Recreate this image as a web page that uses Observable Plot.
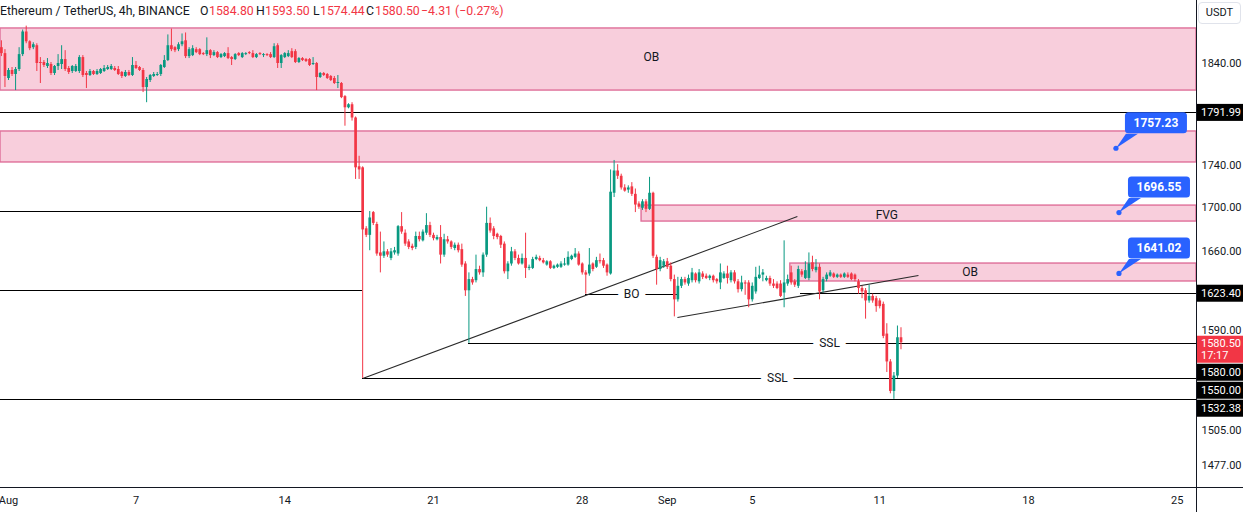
<!DOCTYPE html>
<html><head><meta charset="utf-8">
<script src="https://cdn.jsdelivr.net/npm/d3@7"></script>
<script src="https://cdn.jsdelivr.net/npm/@observablehq/plot@0.6"></script>
<style>
body{margin:0;background:#fff;font-family:Roboto,"Noto Sans",sans-serif;}
#wrap{position:relative;width:1243px;height:512px;overflow:hidden;background:#fff;}
#hdr{position:absolute;left:0;top:0;height:22px;width:520px;font-size:12.3px;color:#131722;white-space:nowrap;}
#hdr span{position:absolute;top:4px;}
.red{color:#f23645;}
#usdt{position:absolute;left:1198px;top:2px;width:41px;height:20px;border:1px solid #e0e3eb;border-radius:4px;background:#fff;font-size:11px;color:#131722;text-align:center;line-height:20px;}
</style></head><body>
<div id="wrap"><div id="chart"></div><div id="hdr"></div><div id="usdt">USDT</div></div>
<script>
// ---- candle data (4h bars, chart time) ----
const candleStart = "2023-07-31T16:00Z";
const opens = [
1857,1851,1826,1834,1830,1835,1850,1873,1863,1857,
1859,1842,1842,1838,1840,1831,1838,1840,1845,1836,
1833,1833,1833,1847,1831,1829,1833,1830,1831,1833,
1835,1835,1836,1835,1832,1828,1832,1829,1839,1837,
1834,1817,1824,1828,1829,1830,1837,1844,1859,1857,
1855,1860,1864,1848,1849,1855,1855,1851,1850,1854,
1849,1852,1847,1848,1851,1847,1845,1851,1847,1850,
1852,1851,1847,1851,1849,1850,1850,1847,1859,1841,
1847,1848,1853,1853,1842,1846,1845,1845,1840,1841,
1827,1831,1830,1828,1826,1821,1821,1808,1797,1800,
1787,1740,1739,1682,1676,1697,1686,1660,1657,1661,
1655,1660,1659,1684,1678,1670,1666,1665,1675,1671,
1678,1685,1676,1672,1674,1658,1672,1670,1664,1667,
1663,1650,1626,1636,1635,1645,1642,1658,1687,1682,
1677,1675,1668,1643,1650,1661,1655,1650,1655,1646,
1646,1654,1655,1653,1649,1652,1646,1647,1647,1649,
1649,1654,1656,1659,1650,1642,1641,1650,1647,1653,
1653,1649,1641,1715,1736,1731,1720,1718,1721,1714,
1705,1701,1707,1700,1715,1656,1645,1648,1652,1648,
1636,1618,1630,1636,1632,1635,1641,1634,1641,1639,
1637,1639,1636,1633,1637,1641,1635,1642,1634,1627,
1633,1633,1618,1625,1637,1640,1635,1637,1632,1632,
1632,1624,1632,1642,1634,1630,1643,1637,1637,1651,
1644,1647,1626,1636,1639,1641,1638,1640,1638,1640,
1641,1640,1634,1628,1626,1617,1621,1619,1617,1614,
1588,1564,1539,1552,1584.80];
const highs = [
1864,1855,1836,1837,1837,1857,1875,1879,1864,1862,
1861,1847,1844,1846,1842,1839,1850,1859,1854,1838,
1839,1840,1849,1849,1833,1835,1834,1835,1836,1839,
1839,1840,1838,1838,1833,1834,1834,1847,1843,1838,
1836,1827,1830,1832,1832,1840,1849,1870,1876,1858,
1862,1871,1872,1857,1859,1857,1856,1852,1867,1855,
1854,1853,1851,1852,1857,1848,1851,1852,1852,1852,
1853,1854,1851,1852,1851,1851,1852,1861,1861,1850,
1852,1854,1856,1855,1847,1847,1846,1846,1847,1842,
1832,1832,1831,1829,1828,1829,1822,1809,1801,1802,
1788,1750,1740,1684,1698,1698,1688,1679,1670,1663,
1664,1665,1685,1697,1681,1672,1668,1679,1679,1681,
1696,1688,1678,1676,1685,1677,1675,1671,1669,1669,
1668,1652,1642,1638,1658,1648,1660,1702,1692,1684,
1678,1676,1670,1652,1665,1663,1658,1659,1678,1649,
1656,1658,1657,1655,1653,1653,1649,1650,1652,1655,
1661,1658,1664,1661,1651,1644,1664,1651,1656,1659,
1655,1650,1737,1746,1742,1733,1723,1722,1725,1719,
1707,1709,1709,1730,1716,1658,1656,1654,1655,1651,
1640,1638,1638,1638,1640,1646,1642,1645,1643,1641,
1640,1640,1637,1650,1643,1648,1644,1644,1636,1639,
1635,1635,1633,1647,1648,1645,1639,1639,1636,1634,
1635,1671,1640,1648,1636,1648,1645,1652,1660,1657,
1654,1650,1638,1642,1644,1642,1641,1641,1642,1642,
1642,1641,1636,1630,1628,1631,1623,1621,1619,1616,
1597,1566,1555,1595,1593.50];
const lows = [
1848,1817,1824,1828,1814,1833,1848,1861,1854,1855,
1833,1821,1837,1836,1829,1829,1834,1835,1833,1830,
1831,1832,1831,1827,1816,1828,1829,1829,1830,1832,
1834,1834,1833,1829,1826,1827,1828,1828,1835,1833,
1812,1802,1822,1827,1828,1828,1836,1843,1853,1852,
1853,1858,1846,1846,1848,1851,1849,1849,1848,1846,
1848,1846,1846,1847,1845,1839,1844,1848,1846,1849,
1850,1846,1846,1849,1847,1848,1846,1846,1836,1836,
1846,1847,1846,1841,1841,1843,1842,1838,1839,1814,
1826,1828,1825,1823,1820,1816,1806,1779,1796,1784,
1728,1728,1550,1674,1662,1685,1657,1642,1655,1656,
1653,1658,1657,1677,1666,1663,1662,1663,1670,1670,
1676,1674,1671,1671,1650,1656,1668,1663,1662,1660,
1647,1621,1580,1631,1633,1640,1638,1656,1678,1672,
1672,1664,1641,1636,1648,1653,1649,1649,1637,1644,
1645,1653,1652,1650,1648,1645,1645,1646,1646,1648,
1648,1653,1655,1648,1640,1623,1639,1643,1646,1650,
1646,1639,1640,1711,1728,1718,1716,1715,1712,1697,
1700,1699,1697,1699,1655,1631,1643,1646,1645,1634,
1603,1616,1628,1631,1630,1633,1633,1632,1636,1636,
1635,1633,1632,1627,1636,1632,1633,1632,1624,1625,
1622,1611,1616,1623,1636,1634,1634,1630,1628,1627,
1620,1611,1630,1631,1629,1628,1638,1636,1635,1643,
1642,1618,1624,1634,1638,1637,1637,1637,1637,1637,
1635,1634,1623,1619,1601,1615,1615,1607,1610,1584,
1555,1537,1532.38,1550,1574.44];
const closes = [
1851,1828,1834,1830,1835,1850,1873,1863,1856,1860,
1841,1841,1839,1841,1831,1838,1841,1845,1835,1832,
1838,1838,1847,1829,1829,1833,1830,1833,1835,1836,
1837,1838,1834,1830,1828,1832,1829,1839,1836,1834,
1817,1825,1829,1830,1830,1839,1844,1859,1855,1854,
1860,1863,1848,1855,1856,1852,1850,1850,1854,1849,
1852,1847,1850,1851,1846,1845,1850,1849,1851,1851,
1851,1847,1850,1850,1850,1849,1847,1858,1841,1849,
1851,1851,1847,1842,1846,1844,1843,1839,1841,1827,
1831,1829,1826,1824,1821,1822,1807,1797,1800,1787,
1739,1737,1681,1676,1692,1687,1659,1657,1661,1658,
1661,1662,1684,1679,1668,1665,1664,1675,1672,1679,
1685,1676,1673,1674,1658,1672,1670,1665,1667,1662,
1649,1626,1636,1633,1645,1642,1658,1687,1680,1675,
1674,1667,1643,1650,1661,1655,1650,1655,1646,1647,
1654,1656,1653,1651,1652,1646,1648,1649,1650,1650,
1656,1657,1659,1649,1642,1640,1649,1645,1653,1652,
1648,1642,1716,1736,1731,1720,1717,1720,1714,1704,
1702,1707,1700,1715,1657,1645,1653,1652,1647,1636,
1618,1630,1636,1633,1637,1642,1635,1642,1638,1637,
1639,1635,1634,1642,1641,1637,1642,1634,1627,1633,
1632,1618,1630,1638,1640,1642,1637,1632,1630,1628,
1621,1633,1636,1633,1631,1645,1640,1644,1650,1645,
1647,1625,1636,1640,1642,1638,1640,1638,1641,1638,
1636,1636,1628,1625,1617,1621,1617,1612,1612,1586,
1564,1539,1552,1584.81,1580.50];

// ---- drawings ----
const zoneTops    = [1876.6, 1773.9, 1703.5, 1650.4];
const zoneBottoms = [1814.0, 1744.1, 1688.7, 1634.3];
const zoneStarts  = [null, null, "2023-08-30T19:00Z", "2023-09-06T19:00Z"];

const lineLevels = [1791.99, 1698, 1626, 1623.40, 1580, 1550, 1532.38, 1622.8];
const lineStarts = [null, null, null, "2023-09-07T06:30Z", "2023-08-22T16:00Z", "2023-08-17T16:00Z", null, "2023-08-28T04:00Z"];
const lineEnds   = [null, "2023-08-17T16:00Z", "2023-08-17T16:00Z", null, null, null, null, "2023-09-01T11:30Z"];

const trendStartDates  = ["2023-08-17T16:00Z", "2023-09-01T11:30Z"];
const trendStartPrices = [1550, 1602.4];
const trendEndDates    = ["2023-09-07T03:00Z", "2023-09-12T19:45Z"];
const trendEndPrices   = [1693.3, 1639.6];

const annoTexts  = ["OB", "FVG", "OB", "SSL", "SSL", "BO"];
const annoDates  = ["2023-08-31T06:00Z", "2023-09-11T08:00Z", "2023-09-15T06:00Z", "2023-09-08T15:15Z", "2023-09-06T04:30Z", "2023-08-30T07:40Z"];
const annoPrices = [1847, 1694.3, 1642.3, 1580, 1550, 1622.8];
const annoOnLine = [false, false, false, true, true, true];

const calloutDates  = ["2023-09-22T03:20Z", "2023-09-22T06:45Z", "2023-09-22T06:45Z"];
const calloutPrices = [1757.23, 1696.55, 1641.02];

const tagPrices = [1791.99, 1623.40, 1580.00, 1550.00, 1532.38];
const countdown = "17:17";

const yTicks = [1840, 1740, 1700, 1660, 1590, 1505, 1477];
const xTickDates  = ["2023-08-01","2023-08-07","2023-08-14","2023-08-21","2023-08-28","2023-09-01","2023-09-05","2023-09-11","2023-09-18","2023-09-25"];
const xTickLabels = ["Aug","7","14","21","28","Sep","5","11","18","25"];

// ---- build ----
const xDomain = [new Date("2023-07-31T14:58Z"), new Date("2023-09-25T21:45Z")];
const yDomain = [1460.3, 1905.5];
const GREEN = "#089981", RED = "#f23645";
const step = 4 * 3600 * 1000;
const t0 = new Date(candleStart).getTime();
const candles = opens.map((o, i) => ({date: new Date(t0 + i * step), open: o, high: highs[i], low: lows[i], close: closes[i]}));
const zones = zoneTops.map((t, i) => ({top: t, bottom: zoneBottoms[i], start: zoneStarts[i] ? new Date(zoneStarts[i]) : xDomain[0], end: xDomain[1]}));
const hLines = lineLevels.map((p, i) => ({price: p, start: lineStarts[i] ? new Date(lineStarts[i]) : xDomain[0], end: lineEnds[i] ? new Date(lineEnds[i]) : xDomain[1]}));
const trends = trendStartDates.map((d, i) => ({d1: new Date(d), p1: trendStartPrices[i], d2: new Date(trendEndDates[i]), p2: trendEndPrices[i]}));
const annos = annoTexts.map((t, i) => ({text: t, date: new Date(annoDates[i]), price: annoPrices[i], onLine: annoOnLine[i]}));
const tickMap = new Map(xTickDates.map((d, i) => [new Date(d + "T00:00Z").getTime(), xTickLabels[i]]));
const last = candles[candles.length - 1], prev = candles[candles.length - 2];
const candleColor = d => d.close >= d.open ? GREEN : RED;

function callouts(index, scales, values, dims) {
  const g = d3.create("svg:g");
  calloutPrices.forEach((p, i) => {
    const ax = scales.x(new Date(calloutDates[i])), ay = scales.y(p);
    const bx = ax + 9, bw = 62, bh = 21, bb = ay - 15, bt = bb - bh;
    g.append("path").attr("d", `M${ax},${ay}L${bx + 1},${bb + 0.5}L${bx + 13},${bb + 0.5}Z`).attr("fill", "#2962ff");
    g.append("rect").attr("x", bx).attr("y", bt).attr("width", bw).attr("height", bh).attr("rx", 3.5).attr("fill", "#2962ff");
    g.append("circle").attr("cx", ax).attr("cy", ay).attr("r", 2.6).attr("fill", "#2962ff");
    g.append("text").attr("x", bx + bw / 2).attr("y", bt + bh / 2).attr("text-anchor", "middle")
      .attr("dominant-baseline", "central").attr("fill", "#fff").attr("font-weight", "bold")
      .attr("font-size", 12).text(p.toFixed(2));
  });
  return g.node();
}

function priceTags(index, scales, values, dims) {
  const g = d3.create("svg:g").attr("text-anchor", "start");
  const x0 = dims.width - dims.marginRight;
  const yb = dims.height - dims.marginBottom;
  g.append("line").attr("x1", x0 + 0.5).attr("x2", x0 + 0.5).attr("y1", 0).attr("y2", dims.height).attr("stroke", "#131722");
  g.append("line").attr("x1", 0).attr("x2", dims.width).attr("y1", yb + 0.5).attr("y2", yb + 0.5).attr("stroke", "#131722");
  const items = tagPrices.map(p => ({y: scales.y(p), h: 17, off: 8.5, fill: "#000", lines: [p.toFixed(2)]}));
  items.push({y: scales.y(last.close), h: 27, off: 6.5, fill: RED, lines: [last.close.toFixed(2), countdown]});
  items.sort((a, b) => a.y - b.y);
  let prevBottom = -Infinity;
  for (const it of items) {
    const top = Math.max(it.y - it.off, prevBottom + 1);
    prevBottom = top + it.h;
    g.append("rect").attr("x", x0 + 1).attr("y", top).attr("width", dims.width - x0).attr("height", it.h).attr("fill", it.fill);
    const first = it.lines.length > 1 ? 7.5 : it.off;
    it.lines.forEach((s, k) => {
      g.append("text").attr("x", x0 + 5).attr("y", top + first + k * 12.5).attr("dominant-baseline", "central")
        .attr("text-anchor", "start").attr("fill", "#fff").attr("font-size", 11).text(s);
    });
  }
  return g.node();
}

const chart = Plot.plot({
  width: 1243, height: 512,
  marginTop: 0, marginBottom: 25, marginLeft: 0, marginRight: 47,
  style: {fontFamily: "Roboto, sans-serif", fontSize: "11px", color: "#131722", background: "#fff"},
  x: {type: "utc", domain: xDomain},
  y: {type: "log", domain: yDomain},
  marks: [
    Plot.rect(zones, {x1: "start", x2: "end", y1: "bottom", y2: "top", fill: "#f8cedc", stroke: "#df6f99", strokeWidth: 1.4}),
    Plot.ruleY(hLines, {y: "price", x1: "start", x2: "end", stroke: "#000", strokeWidth: 1, shapeRendering: "crispEdges"}),
    Plot.link(trends, {x1: "d1", y1: "p1", x2: "d2", y2: "p2", stroke: "#2a2a2a", strokeWidth: 1.1}),
    Plot.ruleX(candles, {x: "date", y1: "low", y2: "high", stroke: candleColor, strokeWidth: 1}),
    Plot.ruleX(candles, {x: "date", y1: "open", y2: "close", stroke: candleColor, strokeWidth: 2.7}),
    Plot.text(annos.filter(d => d.onLine), {x: "date", y: "price", text: "text", fill: "#131722", stroke: "#fff", strokeWidth: 13, fontSize: 12}),
    Plot.text(annos.filter(d => !d.onLine), {x: "date", y: "price", text: "text", fill: "#131722", fontSize: 12}),
    callouts,
    Plot.axisY({anchor: "right", ticks: yTicks, tickFormat: d => d.toFixed(2), tickSize: 0, tickPadding: 5, fontSize: 11, dy: -1.5, label: null}),
    Plot.axisX({ticks: xTickDates.map(d => new Date(d + "T00:00Z")), tickFormat: d => tickMap.get(+d), tickSize: 0, tickPadding: 9, fontSize: 11, label: null}),
    priceTags
  ]
});
document.getElementById("chart").appendChild(chart);

// header
const chg = last.close - prev.close;
const pct = chg / prev.close * 100;
const fmt = v => (v < 0 ? "\u2212" : "+") + Math.abs(v).toFixed(2);
const hdrItems = [
  ["Ethereum / TetherUS, 4h, BINANCE", 0, ""],
  ["O", 200, ""], [last.open.toFixed(2), 209, "red"],
  ["H", 256, ""], [last.high.toFixed(2), 265, "red"],
  ["L", 313, ""], [last.low.toFixed(2), 320, "red"],
  ["C", 366, ""], [last.close.toFixed(2), 375, "red"],
  [`${fmt(chg)} (${fmt(pct)}%)`, 421, "red"]
];
const hdr = document.getElementById("hdr");
hdrItems.forEach(([t, left, cls]) => {
  const s = document.createElement("span");
  s.textContent = t; s.style.left = left + "px"; if (cls) s.className = cls;
  hdr.appendChild(s);
});
</script>
</body></html>
